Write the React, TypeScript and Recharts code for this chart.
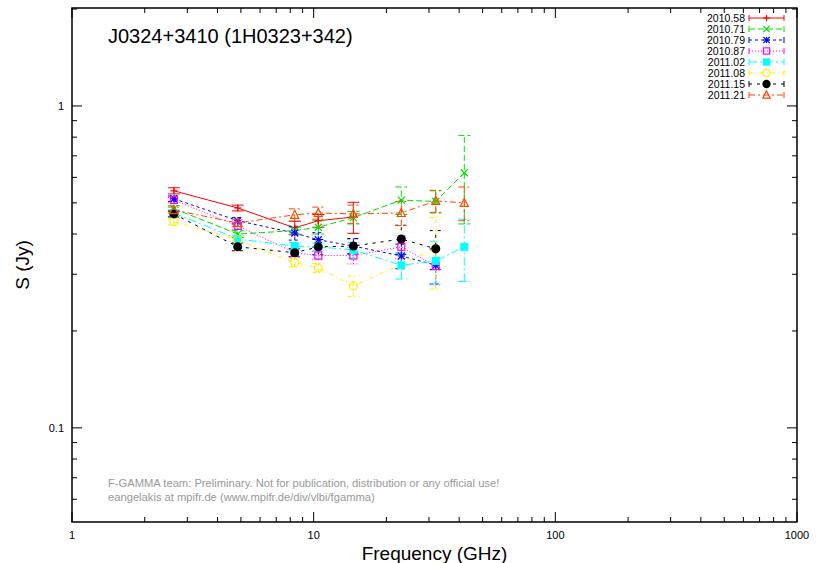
import React from "react";
import {
  LineChart,
  Line,
  XAxis,
  YAxis,
  ErrorBar,
  Legend,
  Customized,
  ReferenceArea,
} from "recharts";

// observing frequencies (GHz)
const freqs = [2.64, 4.85, 8.35, 10.45, 14.6, 23.05, 32.0, 42.0];

// flux densities (Jy) per epoch, null = no measurement
const s201058 = [0.545, 0.482, 0.418, 0.44, 0.452, null, null, null];
const s201071 = [0.48, 0.4, 0.41, 0.42, 0.45, 0.51, 0.505, 0.62];
const s201079 = [0.515, 0.44, 0.403, 0.384, 0.367, 0.342, 0.32, null];
const s201087 = [0.51, 0.424, 0.35, 0.343, 0.343, 0.365, 0.318, null];
const s201102 = [0.465, 0.386, 0.367, 0.365, 0.357, 0.32, 0.33, 0.365];
const s201108 = [0.437, 0.384, 0.326, 0.314, 0.276, null, 0.36, null];
const s201115 = [0.462, 0.365, 0.35, 0.365, 0.367, 0.386, 0.36, null];
const s201121 = [0.475, 0.433, 0.459, 0.465, 0.462, 0.465, 0.507, 0.5];

// errors (Jy)
const e201058 = [0.012, 0.01, 0.02, 0.02, 0.05, 0, 0, 0];
const e201071 = [0.01, 0.01, 0.01, 0.02, 0.02, 0.05, 0.04, 0.19];
const e201079 = [0.01, 0.01, 0.02, 0.02, 0.02, 0.03, 0.04, 0];
const e201087 = [0.01, 0.01, 0.01, 0.01, 0.02, 0.03, 0.04, 0];
const e201102 = [0.01, 0.01, 0.01, 0.01, 0.02, 0.03, 0.05, 0.08];
const e201108 = [0.01, 0.01, 0.01, 0.01, 0.02, 0, 0.09, 0];
const e201115 = [0.01, 0.01, 0.01, 0.02, 0.02, 0.04, 0.05, 0];
const e201121 = [0.01, 0.01, 0.02, 0.02, 0.03, 0.04, 0.04, 0.06];

const xMajor = [1, 10, 100, 1000];
const xMinor = [2, 3, 4, 5, 6, 7, 8, 9, 20, 30, 40, 50, 60, 70, 80, 90, 200, 300, 400, 500, 600, 700, 800, 900];
const yMajor = [0.1, 1];
const yMinor = [0.06, 0.07, 0.08, 0.09, 0.2, 0.3, 0.4, 0.5, 0.6, 0.7, 0.8, 0.9, 2];

const series = [
  { name: "2010.58", vals: s201058, errs: e201058, color: "#ff0000", dash: undefined, mark: "plus" },
  { name: "2010.71", vals: s201071, errs: e201071, color: "#00e000", dash: "6 3", mark: "cross" },
  { name: "2010.79", vals: s201079, errs: e201079, color: "#0000ff", dash: "3 3", mark: "star" },
  { name: "2010.87", vals: s201087, errs: e201087, color: "#ff00ff", dash: "1 2", mark: "box" },
  { name: "2011.02", vals: s201102, errs: e201102, color: "#00ffff", dash: "8 3 2 3", mark: "fbox" },
  { name: "2011.08", vals: s201108, errs: e201108, color: "#ffee00", dash: "4 3 1 3", mark: "circle" },
  { name: "2011.15", vals: s201115, errs: e201115, color: "#000000", dash: "3 5", mark: "fcircle" },
  { name: "2011.21", vals: s201121, errs: e201121, color: "#ff4500", dash: "6 3 2 3", mark: "tri" },
];

const toData = (vals: (number | null)[], errs: number[]) =>
  freqs
    .map((f, i) => ({ f, v: vals[i], e: errs[i] }))
    .filter((d) => d.v != null);

const FONT = "'Liberation Sans', Arial, Helvetica, sans-serif";

// chart geometry
const W = 820;
const H = 563;
const M = { top: 8, right: 23, left: 0, bottom: 0 };
const Y_W = 72;
const X_H = 41;
const PW = W - M.left - M.right - Y_W; // plot width
const PH = H - M.top - M.bottom - X_H; // plot height
const GAP = 8; // tickSize + tickMargin

const Mark = ({ cx, cy, color, mark, k = 1 }: any) => {
  const r = 3.5 * k;
  switch (mark) {
    case "plus":
      return (
        <g stroke={color} strokeWidth={1.2}>
          <line x1={cx - r} x2={cx + r} y1={cy} y2={cy} />
          <line x1={cx} x2={cx} y1={cy - r} y2={cy + r} />
        </g>
      );
    case "cross":
      return (
        <g stroke={color} strokeWidth={1.2}>
          <line x1={cx - r} x2={cx + r} y1={cy - r} y2={cy + r} />
          <line x1={cx - r} x2={cx + r} y1={cy + r} y2={cy - r} />
        </g>
      );
    case "star":
      return (
        <g stroke={color} strokeWidth={1.2}>
          <line x1={cx - r} x2={cx + r} y1={cy} y2={cy} />
          <line x1={cx} x2={cx} y1={cy - r} y2={cy + r} />
          <line x1={cx - r} x2={cx + r} y1={cy - r} y2={cy + r} />
          <line x1={cx - r} x2={cx + r} y1={cy + r} y2={cy - r} />
        </g>
      );
    case "box":
      return <rect x={cx - r} y={cy - r} width={2 * r} height={2 * r} fill="none" stroke={color} strokeWidth={1.2} />;
    case "fbox":
      return <rect x={cx - r - 0.5} y={cy - r - 0.5} width={2 * r + 1} height={2 * r + 1} fill={color} stroke="none" />;
    case "circle":
      return <circle cx={cx} cy={cy} r={r + 0.5} fill="none" stroke={color} strokeWidth={1.2} />;
    case "fcircle":
      return <circle cx={cx} cy={cy} r={r + 1} fill={color} stroke="none" />;
    case "tri":
      return (
        <polygon
          points={`${cx},${cy - r - 1} ${cx - r - 0.5},${cy + r} ${cx + r + 0.5},${cy + r}`}
          fill="none"
          stroke={color}
          strokeWidth={1.2}
        />
      );
    default:
      return null;
  }
};

// gnuplot style ticks: inward, mirrored on the opposite side
const XTick = ({ x, y, payload }: any) => {
  const v = payload.value;
  const major = xMajor.includes(v);
  const len = major ? 10 : 5;
  const y0 = y - GAP;
  return (
    <g>
      <line x1={x} x2={x} y1={y0} y2={y0 - len} stroke="#000" />
      <line x1={x} x2={x} y1={y0 - PH} y2={y0 - PH + len} stroke="#000" />
      {major && (
        <text x={x} y={y} dy="0.8em" textAnchor="middle" fontSize={11} fontFamily={FONT} fill="#000">
          {v}
        </text>
      )}
    </g>
  );
};

const YTick = ({ x, y, payload }: any) => {
  const v = payload.value;
  const major = yMajor.includes(v);
  const len = major ? 10 : 5;
  const x0 = x + GAP;
  return (
    <g>
      <line x1={x0} x2={x0 + len} y1={y} y2={y} stroke="#000" />
      <line x1={x0 + PW} x2={x0 + PW - len} y1={y} y2={y} stroke="#000" />
      {major && (
        <text x={x} y={y} dy="0.35em" textAnchor="end" fontSize={11} fontFamily={FONT} fill="#000">
          {v}
        </text>
      )}
    </g>
  );
};

const LegendBox = () => (
  <svg width={110} height={95}>
    {series.map((s, i) => {
      const y = 6 + i * 11;
      return (
        <g key={s.name}>
          <text x={55} y={y + 4} textAnchor="end" fontSize={10.5} fontFamily={FONT} fill="#000">
            {s.name}
          </text>
          <line x1={59} x2={94} y1={y} y2={y} stroke={s.color} strokeDasharray={s.dash} strokeWidth={1} />
          <line x1={59} x2={59} y1={y - 3} y2={y + 3} stroke={s.color} />
          <line x1={94} x2={94} y1={y - 3} y2={y + 3} stroke={s.color} />
          <Mark cx={76.5} cy={y} color={s.color} mark={s.mark} k={0.9} />
        </g>
      );
    })}
  </svg>
);

const Texts = () => (
  <g fontFamily={FONT}>
    <text x={108} y={43} fontSize={20} fill="#000">
      J0324+3410 (1H0323+342)
    </text>
    <text x={108} y={487} fontSize={11.2} fill="#999">
      F-GAMMA team: Preliminary. Not for publication, distribution or any official use!
    </text>
    <text x={108} y={501} fontSize={11.2} fill="#999">
      eangelakis at mpifr.de (www.mpifr.de/div/vlbi/fgamma)
    </text>
  </g>
);

const App = () => {
  return (
    <div style={{ position: "absolute", left: 0, top: 0, background: "#fff" }}>
      <LineChart width={W} height={H} margin={M}>
        <XAxis
          xAxisId="x"
          dataKey="f"
          type="number"
          scale="log"
          domain={[1, 1000]}
          allowDataOverflow
          ticks={[...xMajor, ...xMinor]}
          interval={0}
          height={X_H}
          tickLine={false}
          tickSize={6}
          tickMargin={2}
          axisLine={false}
          tick={<XTick />}
          label={{ value: "Frequency (GHz)", position: "insideBottom", offset: 3, style: { fontSize: 19, fontFamily: FONT, fill: "#000" } }}
        />
        <YAxis
          yAxisId="y"
          type="number"
          scale="log"
          domain={[0.051, 2.015]}
          allowDataOverflow
          ticks={[...yMajor, ...yMinor]}
          interval={0}
          width={Y_W}
          tickLine={false}
          tickSize={6}
          tickMargin={2}
          axisLine={false}
          tick={<YTick />}
          label={{ value: "S (Jy)", angle: -90, position: "insideLeft", offset: 22, style: { textAnchor: "middle", fontSize: 19, fontFamily: FONT, fill: "#000" } }}
        />

        {/* plot frame */}
        <ReferenceArea xAxisId="x" yAxisId="y" x1={1} x2={1000} y1={0.051} y2={2.015} fill="none" stroke="#000" strokeWidth={1.5} fillOpacity={0} />

        <Customized component={Texts} />

        <Legend
          layout="horizontal"
          verticalAlign="middle"
          align="center"
          content={() => <LegendBox />}
          wrapperStyle={{ position: "absolute", top: 12, left: 690, width: 110, height: 95 }}
        />

        {series.map((s) => (
          <Line
            key={s.name}
            xAxisId="x"
            yAxisId="y"
            data={toData(s.vals, s.errs)}
            dataKey="v"
            name={s.name}
            stroke={s.color}
            strokeWidth={1}
            strokeDasharray={s.dash}
            dot={(p: any) => <Mark key={`${s.name}-${p.index}`} cx={p.cx} cy={p.cy} color={s.color} mark={s.mark} />}
            activeDot={false}
            isAnimationActive={false}
          >
            <ErrorBar dataKey="e" width={6} stroke={s.color} strokeWidth={1} strokeDasharray={s.dash} direction="y" />
          </Line>
        ))}
      </LineChart>
    </div>
  );
};

export default App;
